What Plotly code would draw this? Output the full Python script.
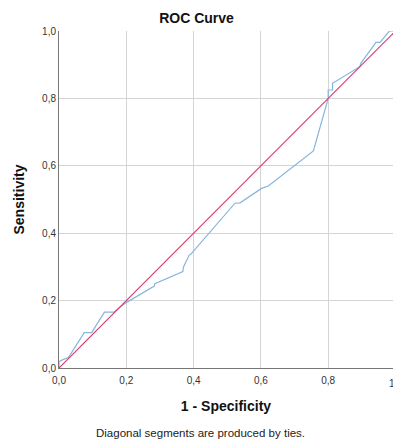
import plotly.graph_objects as go

# ROC curve points (1 - specificity, sensitivity)
fpr = [0, 0, 0.01, 0.028, 0.075, 0.097, 0.135, 0.164, 0.181, 0.2, 0.283, 0.285,
       0.368, 0.37, 0.387, 0.392, 0.523, 0.538, 0.602, 0.622, 0.756, 0.80, 0.80,
       0.813, 0.813, 0.894, 0.897, 0.942, 0.954, 0.982, 1.0]
tpr = [0, 0.019, 0.024, 0.031, 0.105, 0.105, 0.166, 0.166, 0.18, 0.194, 0.243, 0.25,
       0.286, 0.30, 0.335, 0.338, 0.489, 0.49, 0.533, 0.54, 0.644, 0.80, 0.825,
       0.825, 0.845, 0.894, 0.904, 0.966, 0.966, 1.0, 1.0]
ref_x = [0, 1]
ref_y = [0, 1]
tick_vals = [0, 0.2, 0.4, 0.6, 0.8, 1.0]
tick_text = ["0,0", "0,2", "0,4", "0,6", "0,8", "1,0"]

FONT = "Liberation Sans, Arial, sans-serif"

W, H = 393, 441
L, T, B = 59, 31, 73
PW = W - L  # plot width (r = 0)
PH = H - T - B

fig = go.Figure()
fig.add_trace(go.Scatter(x=fpr, y=tpr, mode="lines",
                         line=dict(color="#86B5DE", width=1.2), showlegend=False))
fig.add_trace(go.Scatter(x=ref_x, y=ref_y, mode="lines",
                         line=dict(color="#D63C6B", width=1.2), showlegend=False))

fig.update_layout(
    width=W, height=H,
    margin=dict(l=L, r=0, t=T, b=B, autoexpand=False),
    paper_bgcolor="white", plot_bgcolor="white",
    font=dict(family=FONT, color="#222", size=10),
    title=dict(text="<b>ROC Curve</b>", x=0.5, xanchor="center", y=1 - 18/H,
               yanchor="middle", font=dict(size=14, color="#111")),
    showlegend=False,
)
fig.update_xaxes(
    range=[0, 0.9926], tickvals=tick_vals, ticktext=tick_text,
    showgrid=True, gridcolor="#D4D4D4", gridwidth=1,
    showline=True, linecolor="#777", linewidth=1, zeroline=False,
    ticks="", ticklabelstandoff=3, tickfont=dict(size=10, color="#333"),
    automargin=False,
    title=dict(text="<b>1 - Specificity</b>", font=dict(size=14, color="#111"), standoff=16),
)
fig.update_yaxes(
    range=[0, 1.0], tickvals=tick_vals, ticktext=tick_text,
    showgrid=True, gridcolor="#D4D4D4", gridwidth=1,
    showline=True, linecolor="#777", linewidth=1, zeroline=False,
    ticks="", tickfont=dict(size=10, color="#333"),
    automargin=False,
    title=dict(text="<b>Sensitivity</b>", font=dict(size=14, color="#111"), standoff=14),
)
# partially visible "1,0" tick label at x = 1 (beyond visible range)
fig.add_annotation(text="1,0", xref="paper", yref="paper", x=1 + 2.5/PW, y=0,
                   yshift=-15, showarrow=False, xanchor="center", yanchor="middle",
                   font=dict(size=10, color="#333"))
fig.add_annotation(text="Diagonal segments are produced by ties.", xref="paper", yref="paper",
                   x=(200 - L)/PW, y=-(433 - (T + PH))/PH, showarrow=False,
                   xanchor="center", yanchor="middle", font=dict(size=11.5, color="#222"))

fig.write_html(
    "out.html",
    config={"displayModeBar": False},
    post_script="document.body.style.margin='0';document.body.style.overflow='hidden';",
)
